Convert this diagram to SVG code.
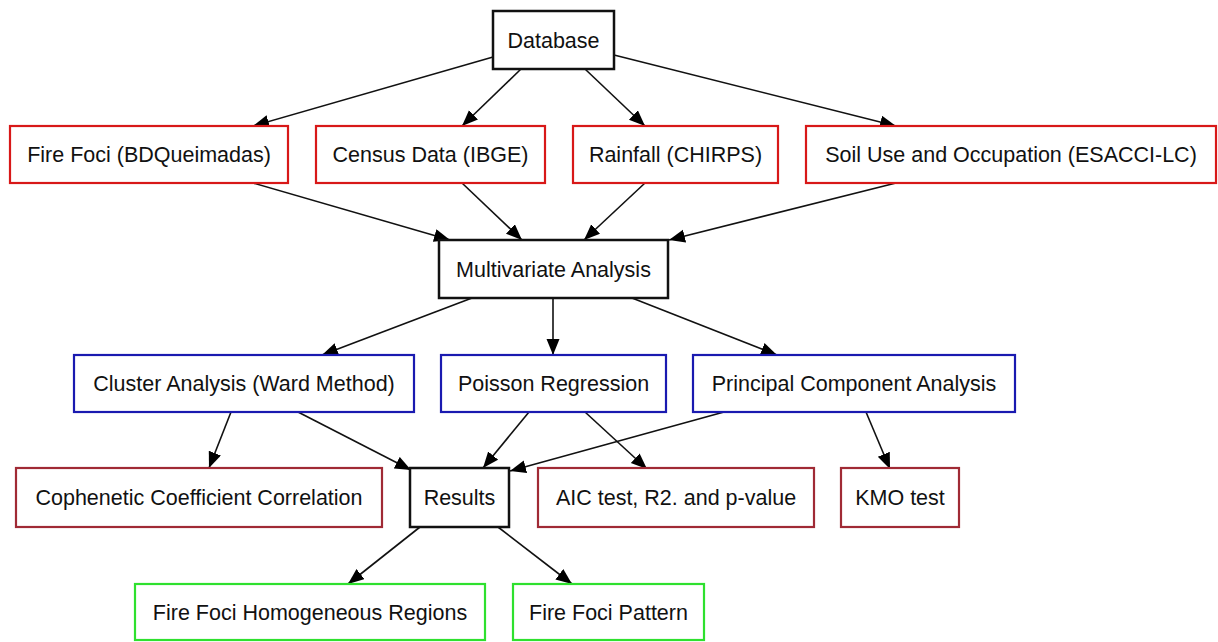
<svg xmlns="http://www.w3.org/2000/svg" width="1218" height="642" viewBox="0 0 1218 642">
<style>
.n rect{fill:#fff}
.k rect{stroke:#111;stroke-width:2.5}
.r rect{stroke:#d81818;stroke-width:2.2}
.b rect{stroke:#1a1ab0;stroke-width:2.2}
.m rect{stroke:#a02a35;stroke-width:2.2}
.g rect{stroke:#2ee02e;stroke-width:2.2}
text{font-family:"Liberation Sans",Arial,sans-serif;font-size:21.5px;fill:#111;text-anchor:middle}
#edges line{stroke:#111;stroke-width:1.6;marker-end:url(#ah)}
</style>
<defs>
<marker id="ah" markerUnits="userSpaceOnUse" markerWidth="18" markerHeight="14" refX="16" refY="6.5" orient="auto">
<path d="M0,0 L16,6.5 L0,13 Z" fill="#000"/>
</marker>
</defs>
<rect width="1218" height="642" fill="#fff"/>
<g id="edges">
<line x1="493" y1="57" x2="253" y2="126"/>
<line x1="521" y1="69" x2="462" y2="126"/>
<line x1="585" y1="69" x2="645" y2="126"/>
<line x1="614" y1="55" x2="896" y2="126"/>
<line x1="253" y1="183" x2="450" y2="240"/>
<line x1="462" y1="183" x2="522" y2="240"/>
<line x1="645" y1="183" x2="584" y2="240"/>
<line x1="896" y1="183" x2="669" y2="240"/>
<line x1="472" y1="298" x2="322" y2="355"/>
<line x1="553" y1="298" x2="553" y2="355"/>
<line x1="632" y1="298" x2="777" y2="355"/>
<line x1="231" y1="412" x2="209" y2="468"/>
<line x1="298" y1="412" x2="411" y2="470"/>
<line x1="529" y1="412" x2="483" y2="468"/>
<line x1="585" y1="412" x2="647" y2="469"/>
<line x1="724" y1="412" x2="510" y2="471"/>
<line x1="866" y1="412" x2="890" y2="469"/>
<line x1="420" y1="527" x2="348" y2="584"/>
<line x1="498" y1="527" x2="572" y2="584"/>
</g>
<g id="database" class="n k"><rect x="493" y="11" width="121" height="58"/><text x="553.5" y="47.5">Database</text></g>
<g id="firefoci" class="n r"><rect x="10" y="126" width="278" height="57"/><text x="149" y="162">Fire Foci (BDQueimadas)</text></g>
<g id="census" class="n r"><rect x="316" y="126" width="229" height="57"/><text x="430.5" y="162">Census Data (IBGE)</text></g>
<g id="rainfall" class="n r"><rect x="573" y="126" width="205" height="57"/><text x="675.5" y="162">Rainfall (CHIRPS)</text></g>
<g id="soil" class="n r"><rect x="806" y="126" width="410" height="57"/><text x="1011" y="162">Soil Use and Occupation (ESACCI-LC)</text></g>
<g id="multivariate" class="n k"><rect x="439" y="240" width="229" height="58"/><text x="553.5" y="276.5">Multivariate Analysis</text></g>
<g id="cluster" class="n b"><rect x="74" y="355" width="340" height="57"/><text x="244" y="391">Cluster Analysis (Ward Method)</text></g>
<g id="poisson" class="n b"><rect x="441" y="355" width="225" height="57"/><text x="553.5" y="391">Poisson Regression</text></g>
<g id="pca" class="n b"><rect x="693" y="355" width="322" height="57"/><text x="854" y="391">Principal Component Analysis</text></g>
<g id="cophenetic" class="n m"><rect x="16" y="468" width="366" height="59"/><text x="199" y="505">Cophenetic Coefficient Correlation</text></g>
<g id="results" class="n k"><rect x="410" y="468" width="99" height="59"/><text x="459.5" y="505">Results</text></g>
<g id="aic" class="n m"><rect x="538" y="468" width="276" height="59"/><text x="676" y="505">AIC test, R2. and p-value</text></g>
<g id="kmo" class="n m"><rect x="841" y="468" width="118" height="59"/><text x="900" y="505">KMO test</text></g>
<g id="homog" class="n g"><rect x="135" y="584" width="350" height="56"/><text x="310" y="620">Fire Foci Homogeneous Regions</text></g>
<g id="pattern" class="n g"><rect x="513" y="584" width="191" height="56"/><text x="608.5" y="620">Fire Foci Pattern</text></g>
</svg>
